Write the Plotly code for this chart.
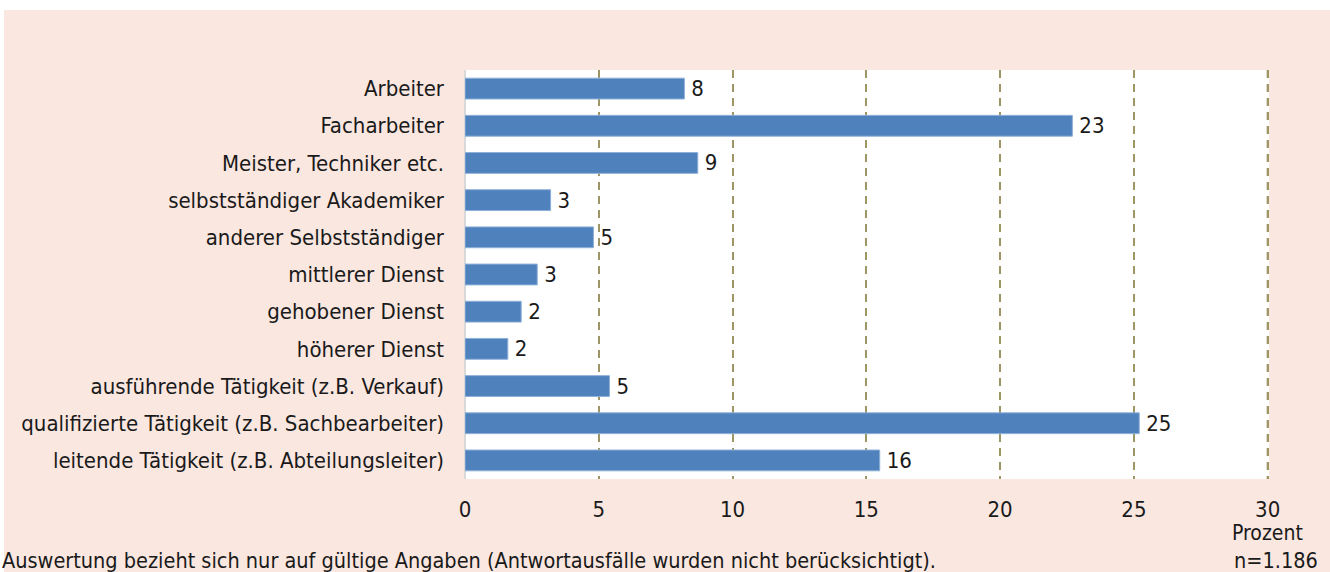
import plotly.graph_objects as go

categories = [
    "Arbeiter",
    "Facharbeiter",
    "Meister, Techniker etc.",
    "selbstständiger Akademiker",
    "anderer Selbstständiger",
    "mittlerer Dienst",
    "gehobener Dienst",
    "höherer Dienst",
    "ausführende Tätigkeit (z.B. Verkauf)",
    "qualifizierte Tätigkeit (z.B. Sachbearbeiter)",
    "leitende Tätigkeit (z.B. Abteilungsleiter)",
]
values = [8.2, 22.7, 8.7, 3.2, 4.8, 2.7, 2.1, 1.6, 5.4, 25.2, 15.5]
labels = ["8", "23", "9", "3", "5", "3", "2", "2", "5", "25", "16"]
x_ticks = [0, 5, 10, 15, 20, 25, 30]

FONT = "DejaVu Sans Condensed, Liberation Sans Narrow, Roboto, sans-serif"
PINK = "#f9e7e0"
TXT = "#1a1a1a"
GRID = "#9e9564"
FS = 22

W, H = 1330, 572
L, R, T, B = 465, 61, 70, 93
pw, ph = W - L - R, H - T - B

def px(x):
    return (x - L) / pw

def py(y):
    return (H - B - y) / ph

fig = go.Figure(
    go.Bar(
        x=values,
        y=categories,
        orientation="h",
        marker=dict(color="#4f81bd", line=dict(color="#8fb0d8", width=1)),
        text=labels,
        texttemplate="\u2009%{text}",
        textposition="outside",
        constraintext="none",
        textfont=dict(family=FONT, size=FS, color=TXT),
        cliponaxis=False,
        hoverinfo="skip",
    )
)

fig.update_layout(
    width=W,
    height=H,
    margin=dict(l=L, r=R, t=T, b=B, pad=0),
    paper_bgcolor=PINK,
    plot_bgcolor="white",
    bargap=0.44,
    showlegend=False,
    font=dict(family=FONT, size=FS, color=TXT),
    xaxis=dict(
        range=[x_ticks[0], x_ticks[-1] + 0.05],
        tickvals=x_ticks,
        ticktext=[str(t) for t in x_ticks],
        showgrid=True,
        gridcolor=GRID,
        gridwidth=2,
        griddash="8px,6px",
        zeroline=True,
        zerolinecolor="#d9d9d9",
        zerolinewidth=2,
        showline=False,
        ticks="",
        ticklabelstandoff=15,
        tickfont=dict(family=FONT, size=FS, color=TXT),
    ),
    yaxis=dict(
        categoryorder="array",
        categoryarray=categories,
        autorange="reversed",
        showgrid=False,
        zeroline=False,
        showline=False,
        ticks="",
        ticklabelstandoff=20,
        tickfont=dict(family=FONT, size=FS, color=TXT),
    ),
    shapes=[
        dict(type="line", xref="x", yref="paper",
             x0=x_ticks[-1], x1=x_ticks[-1], y0=1, y1=0,
             line=dict(color=GRID, width=2, dash="8px,6px"), layer="below"),
        dict(type="rect", xref="paper", yref="paper",
             x0=px(-5), x1=px(W + 5), y0=py(10), y1=py(-5),
             fillcolor="white", line=dict(width=0), layer="above"),
        dict(type="rect", xref="paper", yref="paper",
             x0=px(-5), x1=px(4), y0=py(H + 5), y1=py(-5),
             fillcolor="white", line=dict(width=0), layer="above"),
    ],
    annotations=[
        dict(text="Prozent", xref="x", yref="paper", x=x_ticks[-1], y=py(533),
             xanchor="center", yanchor="middle", showarrow=False,
             font=dict(family=FONT, size=21, color=TXT)),
        dict(text="Auswertung bezieht sich nur auf gültige Angaben (Antwortausfälle wurden nicht berücksichtigt).",
             xref="paper", yref="paper", x=px(0), y=py(560),
             xanchor="left", yanchor="middle", showarrow=False,
             font=dict(family=FONT, size=21.5, color=TXT)),
        dict(text="n=1.186", xref="paper", yref="paper", x=px(1320), y=py(560),
             xanchor="right", yanchor="middle", showarrow=False,
             font=dict(family=FONT, size=21.5, color=TXT)),
    ],
)

fig.write_html(
    "out.html",
    config={"displayModeBar": False},
    post_script="document.body.style.margin='0';document.body.style.overflow='hidden';",
)
